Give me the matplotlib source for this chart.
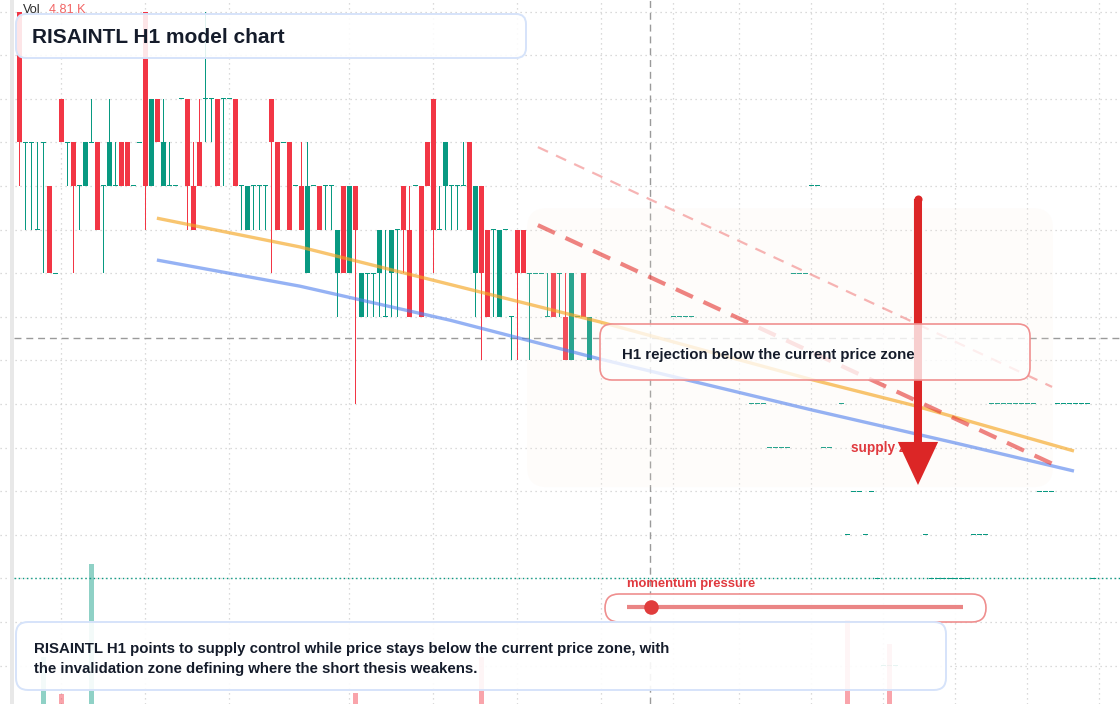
import numpy as np
import matplotlib
matplotlib.use("Agg")
import matplotlib.pyplot as plt
from matplotlib.patches import FancyBboxPatch, FancyArrowPatch, Rectangle

plt.rcParams['font.family'] = ['Liberation Sans', 'DejaVu Sans']

# ---------------- data ----------------
opens = [100, 97, 97, 95, 97, 96, 94, 98, 97, 97, 96, 96, 97, 97, 96, 96, 96, 97, 97, 96,
         97, 100, 96, 98, 96, 96, 96, 98, 98, 96, 97, 98, 98, 98, 98, 98, 98, 96, 95, 96,
         96, 96, 98, 97, 97, 97, 96, 96, 94, 96, 96, 96, 96, 94, 96, 94, 96, 93, 94, 94,
         94, 93, 94, 95, 96, 95, 96, 96, 97, 98, 95, 96, 96, 96, 96, 97, 94, 96, 95, 95,
         93, 95, 93, 95, 95, 94, 94, 94, 93, 94, 94, 93, 92, 93, 94, 92]
highs = [100, 97, 97, 97, 97, 96, 94, 98, 97, 97, 96, 97, 98, 97, 96, 98, 97, 97, 97, 96,
         97, 100, 98, 98, 98, 97, 96, 98, 98, 97, 98, 100, 98, 98, 98, 98, 98, 96, 96, 96,
         96, 96, 98, 97, 97, 97, 96, 97, 97, 96, 96, 96, 96, 95, 96, 96, 96, 94, 94, 94,
         95, 95, 95, 95, 96, 96, 96, 96, 97, 98, 96, 97, 96, 96, 97, 97, 96, 96, 95, 95,
         95, 95, 93, 95, 95, 94, 94, 94, 94, 94, 94, 94, 94, 93, 94, 93]
lows = [96, 95, 95, 95, 94, 94, 94, 97, 96, 94, 95, 96, 97, 95, 94, 96, 96, 96, 96, 96,
        97, 95, 96, 97, 96, 96, 96, 98, 95, 95, 96, 97, 97, 96, 96, 98, 96, 95, 95, 95,
        95, 95, 94, 95, 97, 95, 96, 95, 94, 96, 95, 95, 95, 93, 94, 94, 91, 93, 93, 93,
        93, 93, 93, 93, 94, 93, 96, 93, 96, 94, 95, 95, 95, 95, 96, 95, 93, 92, 93, 93,
        93, 95, 92, 92, 94, 92, 94, 94, 93, 93, 93, 92, 92, 93, 93, 92]
closes = [97, 97, 97, 95, 97, 94, 94, 97, 97, 96, 96, 97, 97, 95, 96, 97, 96, 96, 96, 96,
          97, 96, 98, 97, 97, 96, 96, 98, 96, 95, 96, 98, 98, 96, 98, 98, 96, 96, 96, 96,
          96, 96, 97, 95, 97, 95, 96, 95, 96, 96, 95, 96, 96, 95, 94, 96, 95, 94, 94, 94,
          95, 93, 95, 95, 95, 93, 96, 93, 96, 95, 95, 97, 96, 96, 96, 95, 96, 94, 93, 95,
          95, 95, 93, 94, 94, 94, 94, 94, 93, 93, 94, 92, 94, 93, 93, 93]

# flat (open = high = low = close) bars further right
flat_idx = [109, 110, 111, 112,
            122, 123, 124, 137, 162, 163, 164, 165, 166, 167, 168, 169,
            173, 174, 175, 176, 177, 178,
            125, 126, 127, 128, 134, 135,
            129, 130, 131,
            132, 133,
            138, 141, 151, 159, 160, 161,
            139, 140, 142, 170, 171, 172,
            143, 152, 153, 154, 155, 156, 157, 158, 179,
            144, 145, 146]
flat_price = [93, 93, 93, 93,
              91, 91, 91, 91, 91, 91, 91, 91, 91, 91, 91, 91,
              91, 91, 91, 91, 91, 91,
              90, 90, 90, 90, 90, 90,
              94, 94, 94,
              96, 96,
              88, 88, 88, 88, 88, 88,
              89, 89, 89, 89, 89, 89,
              87, 87, 87, 87, 87, 87, 87, 87, 87,
              85, 85, 85]

vol_idx = [4, 7, 12, 56, 77, 138, 145]
vol_k = [2.35, 0.5, 7.0, 0.55, 2.35, 4.2, 3.0]
vol_up = [True, False, True, False, False, False, False]
vol_last = "4.81 K"

time_ticks = [7, 21, 35, 55, 69, 83, 97, 109, 120, 132, 144, 156, 168, 180]
price_levels = list(range(85, 101))
current_price = 92.51
crosshair_idx = 105.1

orange_x = [22.9, 46.75, 96.75, 132.25, 148.9, 175.75]
orange_y = [95.26, 94.60, 92.88, 91.55, 90.97, 89.92]
blue_x = [22.9, 46.75, 71.75, 96.75, 132.1, 156.1, 175.75]
blue_y = [94.30, 93.70, 92.92, 92.03, 90.86, 90.10, 89.46]
inval_x = [86.4, 172.25]
inval_y = [95.10, 89.62]
inval2_x = [86.4, 172.1]
inval2_y = [96.89, 91.39]
zone_x = [84.6, 172.25]
zone_y = [89.09, 95.49]
arrow_idx = 149.75
arrow_from, arrow_to = 95.70, 89.14
momentum = 0.07

title = "RISAINTL H1 model chart"
callout = "H1 rejection below the current price zone"
footer1 = "RISAINTL H1 points to supply control while price stays below the current price zone, with"
footer2 = "the invalidation zone defining where the short thesis weakens."

RED = '#f23645'
TEAL = '#089981'
INK = '#151c2b'

# ---------------- figure ----------------
fig = plt.figure(figsize=(11.2, 7.04), dpi=100)
fig.patch.set_facecolor('white')
ax = fig.add_axes([0, 0, 1, 1], zorder=1)
ax.set_xlim(-3.25, 183.42)
ax.set_ylim(84.117, 100.264)
for s in ax.spines.values():
    s.set_visible(False)
ax.set_xticks(time_ticks)
ax.set_yticks(price_levels)
ax.tick_params(length=0, labelleft=False, labelbottom=False)
ax.grid(True, color='#cfcfcf', linestyle=(0, (1, 3)), linewidth=0.9)
ax.set_axisbelow(True)

ax_ui = fig.add_axes([0, 0, 1, 1], zorder=3)
ax_ui.set_xlim(0, 1120)
ax_ui.set_ylim(704, 0)
ax_ui.axis('off')
ax_ui.patch.set_visible(False)
px = ax_ui.transData

# one screen pixel in data units
PX_X = (183.42 + 3.25) / 1120
PX_Y = (100.264 - 84.117) / 704

# reference lines
ax.axhline(current_price, xmin=14 / 1120, color='#9a9a9a', lw=1.0,
           linestyle=(0, (5, 3.5)), zorder=1.5)
ax.axvline(crosshair_idx, color='#9a9a9a', lw=1.0, linestyle=(0, (5, 3.5)), zorder=1.5)
ax.axhline(87, xmin=14 / 1120, color=TEAL, lw=1.0, linestyle=(0, (1, 2)), zorder=1.6)

# candles
o = np.array(opens, float); h = np.array(highs, float)
l = np.array(lows, float); c = np.array(closes, float)
idx = np.arange(len(o))
up = c >= o
cols = [TEAL if u else RED for u in up]
# wicks as 1-px wide bars
ax.bar(idx, h - l, bottom=l, width=PX_X * 1.05, color=cols, linewidth=0, zorder=2)
body = c != o
bcols = [cc for cc, b in zip(cols, body) if b]
ax.bar(idx[body], np.abs(c - o)[body], bottom=np.minimum(o, c)[body], width=0.83,
       color=bcols, linewidth=0, zorder=2.2)
doji = ~body
dcols = [cc for cc, d in zip(cols, doji) if d]
ax.bar(idx[doji], PX_Y * 1.05, bottom=o[doji] - PX_Y * 0.5, width=0.8,
       color=dcols, linewidth=0, zorder=2.2)
ax.bar(flat_idx, PX_Y * 1.05, bottom=np.array(flat_price, float) - PX_Y * 0.5, width=0.8,
       color=TEAL, linewidth=0, zorder=2.2)

# zone
zone = FancyBboxPatch((zone_x[0], zone_y[0]), zone_x[1] - zone_x[0], zone_y[1] - zone_y[0],
                      boxstyle='round,pad=0,rounding_size=3.3', mutation_aspect=6 / 43.6,
                      facecolor='#f8ece0', alpha=0.14, linewidth=0, zorder=3)
ax.add_patch(zone)

# trend lines
ax.plot(orange_x, orange_y, color='#f5a623', alpha=0.65, lw=2.4, zorder=4,
        solid_capstyle='butt')
ax.plot(blue_x, blue_y, color='#4f7fee', alpha=0.6, lw=2.4, zorder=4,
        solid_capstyle='butt')
ax.plot(inval2_x, inval2_y, color='#ef6b6b', alpha=0.5, lw=1.6,
        linestyle=(0, (5, 4)), zorder=4)
ax.plot(inval_x, inval_y, color='#e53935', alpha=0.62, lw=3.0,
        linestyle=(0, (4.5, 2.8)), zorder=4)

# supply zone label (under arrow)
ax.text(851, 452, "supply zone", transform=px, fontsize=9.8, fontweight='bold',
        color='#e0393e', va='baseline', ha='left', zorder=5)

# arrow
arr = FancyArrowPatch((arrow_idx, arrow_from), (arrow_idx, arrow_to),
                      arrowstyle='simple,head_length=31,head_width=29,tail_width=5.8',
                      mutation_scale=1, color='#dc2626', linewidth=0,
                      shrinkA=0, shrinkB=0, zorder=6)
ax.add_patch(arr)
ax.plot([arrow_idx], [arrow_from], 'o', ms=5.8, color='#dc2626', mew=0, zorder=6)

# volume
ax_vol = ax.twinx()
ax_vol.set_zorder(2)
ax_vol.patch.set_visible(False)
ax_vol.set_ylim(0, 35.2)
ax_vol.axis('off')
ax_vol.bar(vol_idx, vol_k, width=0.83,
           color=[TEAL if u else RED for u in vol_up], alpha=0.45, linewidth=0)

# UI overlay
ax_ui.add_patch(Rectangle((10, 0), 4, 704, color='#e8e8e8', lw=0))

ax_ui.text(23, 13, "Vol", fontsize=9.2, color='#2b2b2b', va='baseline')
ax_ui.text(49, 13, vol_last, fontsize=9.2, color='#f26464', va='baseline')

ax_ui.add_patch(FancyBboxPatch((16, 14), 510, 44, boxstyle='round,pad=0,rounding_size=10',
                               facecolor=(1, 1, 1, 0.88), edgecolor='#d6e3fa', lw=1.4))
ax_ui.text(32, 43, title, fontsize=15, fontweight='bold', color=INK, va='baseline')

ax_ui.add_patch(FancyBboxPatch((600, 324), 430, 56, boxstyle='round,pad=0,rounding_size=12',
                               facecolor=(1, 1, 1, 0.78), edgecolor='#f09090', lw=1.2))
ax_ui.text(622, 359, callout, fontsize=10.8, fontweight='bold', color=INK, va='baseline')

ax_ui.text(627, 587, "momentum pressure", fontsize=9.4, fontweight='bold',
           color='#e0393e', va='baseline')
ax_ui.add_patch(FancyBboxPatch((605, 594), 381, 28, boxstyle='round,pad=0,rounding_size=14',
                               facecolor=(1, 1, 1, 0.92), edgecolor='#ef8f8f', lw=1.2))
ax_ui.plot([627, 963], [607, 607], color='#ea8585', lw=3, solid_capstyle='butt')
ax_ui.plot([627 + momentum * (963 - 627)], [607], 'o', color='#e03c3c', markersize=10.5,
           markeredgewidth=0)

ax_ui.add_patch(FancyBboxPatch((16, 622), 930, 68, boxstyle='round,pad=0,rounding_size=12',
                               facecolor=(1, 1, 1, 0.9), edgecolor='#d6e3fa', lw=1.4))
ax_ui.text(34, 653, footer1, fontsize=10.8, fontweight='bold', color=INK, va='baseline')
ax_ui.text(34, 673, footer2, fontsize=10.8, fontweight='bold', color=INK, va='baseline')

fig.savefig("out.png", dpi=100, facecolor='white')
